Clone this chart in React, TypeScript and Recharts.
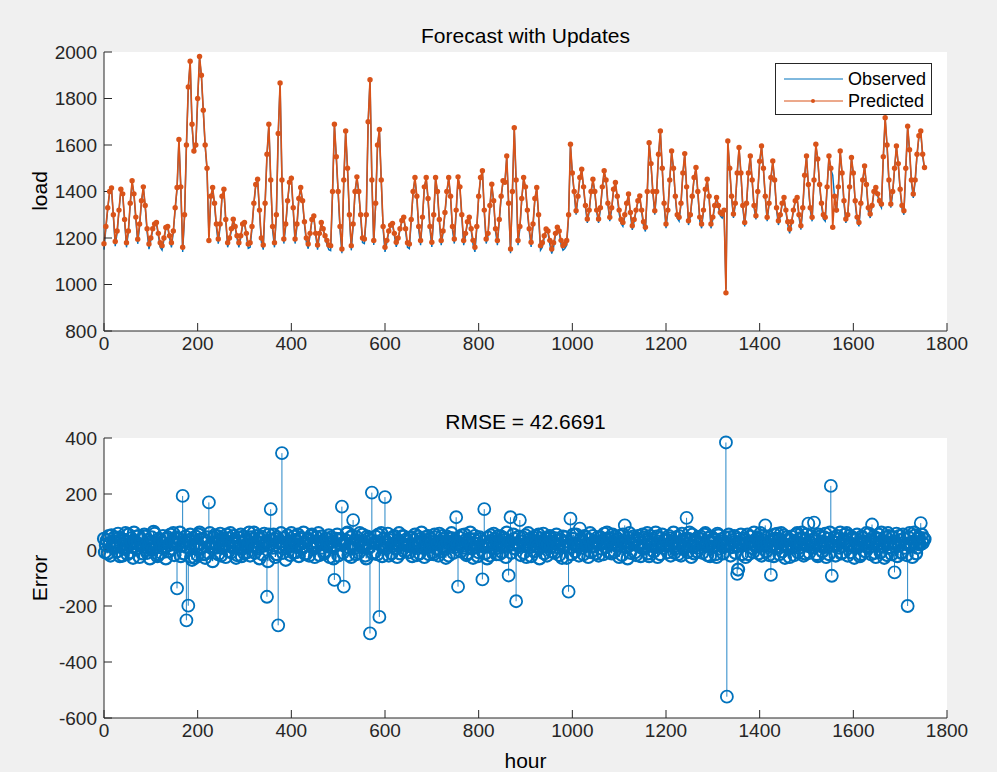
import React from "react";
import { LineChart, Line, ComposedChart, Bar, XAxis, YAxis } from "recharts";

// load sampled every 4 hours (one row = one day)
const loadStep = 4;
// error sampled every 2 hours (one row = one day)
const errorStep = 2;

const predictedLoad = [
  1175, 1250, 1330, 1400, 1415, 1300,
  1185, 1230, 1320, 1410, 1390, 1280,
  1180, 1230, 1350, 1446, 1390, 1290,
  1195, 1260, 1360, 1420, 1340, 1240,
  1174, 1200, 1240, 1260, 1267, 1220,
  1180, 1167, 1200, 1245, 1250, 1210,
  1180, 1230, 1330, 1417, 1624, 1420,
  1160, 1300, 1600, 1850, 1960, 1689,
  1574, 1600, 1800, 1981, 1900, 1750,
  1600, 1500, 1189, 1380, 1417, 1350,
  1260, 1196, 1260, 1380, 1410, 1280,
  1180, 1200, 1240, 1281, 1250, 1210,
  1180, 1210, 1260, 1267, 1220, 1174,
  1180, 1250, 1350, 1430, 1453, 1320,
  1200, 1170, 1350, 1560, 1689, 1450,
  1250, 1180, 1300, 1650, 1867, 1450,
  1196, 1260, 1360, 1440, 1457, 1330,
  1196, 1260, 1370, 1417, 1360, 1270,
  1200, 1174, 1220, 1280, 1295, 1220,
  1170, 1220, 1267, 1240, 1210, 1190,
  1170, 1167, 1400, 1689, 1550, 1400,
  1250, 1153, 1450, 1660, 1500, 1300,
  1167, 1260, 1400, 1463, 1400, 1300,
  1200, 1196, 1300, 1700, 1881, 1450,
  1189, 1350, 1600, 1667, 1450, 1250,
  1160, 1190, 1230, 1255, 1263, 1220,
  1182, 1200, 1240, 1275, 1289, 1240,
  1180, 1174, 1280, 1400, 1460, 1380,
  1250, 1189, 1290, 1420, 1460, 1370,
  1250, 1182, 1300, 1460, 1400, 1280,
  1189, 1230, 1310, 1400, 1460, 1380,
  1250, 1196, 1320, 1463, 1420, 1300,
  1189, 1220, 1270, 1289, 1240, 1190,
  1160, 1250, 1380, 1460, 1489, 1320,
  1196, 1220, 1340, 1431, 1360, 1240,
  1189, 1280, 1380, 1446, 1440, 1553,
  1350, 1153, 1400, 1674, 1450, 1189,
  1250, 1370, 1460, 1420, 1320, 1240,
  1182, 1260, 1370, 1417, 1300, 1167,
  1180, 1210, 1239, 1230, 1190, 1153,
  1180, 1220, 1246, 1230, 1190, 1167,
  1175, 1189, 1300, 1603, 1480, 1400,
  1317, 1380, 1460, 1496, 1420, 1340,
  1282, 1320, 1400, 1453, 1400, 1320,
  1282, 1330, 1420, 1489, 1450, 1350,
  1289, 1330, 1410, 1439, 1380, 1320,
  1280, 1267, 1300, 1350, 1389, 1310,
  1253, 1280, 1320, 1360, 1381, 1320,
  1270, 1246, 1400, 1610, 1520, 1400,
  1317, 1400, 1560, 1660, 1500, 1350,
  1260, 1320, 1450, 1574, 1500, 1380,
  1300, 1289, 1350, 1480, 1563, 1420,
  1274, 1300, 1380, 1460, 1503, 1400,
  1290, 1260, 1320, 1410, 1453, 1380,
  1260, 1290, 1340, 1374, 1340, 1310,
  1303, 1320, 964, 1617, 1500, 1380,
  1303, 1350, 1480, 1589, 1480, 1340,
  1267, 1350, 1480, 1553, 1450, 1340,
  1296, 1400, 1530, 1596, 1500, 1380,
  1289, 1350, 1460, 1531, 1450, 1330,
  1274, 1300, 1350, 1374, 1320, 1270,
  1239, 1270, 1320, 1360, 1374, 1300,
  1253, 1330, 1470, 1553, 1430, 1330,
  1289, 1450, 1603, 1540, 1430, 1350,
  1300, 1289, 1420, 1553, 1500, 1246,
  1380, 1320, 1420, 1574, 1480, 1360,
  1282, 1300, 1420, 1546, 1480, 1360,
  1290, 1267, 1350, 1450, 1510, 1430,
  1330, 1303, 1340, 1400, 1417, 1390,
  1360, 1346, 1550, 1717, 1600, 1450,
  1346, 1400, 1500, 1596, 1520, 1410,
  1340, 1317, 1500, 1681, 1580, 1450,
  1389, 1450, 1560, 1640, 1660, 1560,
  1503,
];

const observedLoad = [
  1150, 1240, 1325, 1395, 1410, 1290,
  1165, 1222, 1318, 1405, 1385, 1270,
  1160, 1225, 1345, 1440, 1385, 1280,
  1175, 1250, 1355, 1415, 1335, 1225,
  1152, 1190, 1235, 1255, 1262, 1210,
  1160, 1148, 1192, 1240, 1245, 1198,
  1160, 1225, 1325, 1410, 1620, 1415,
  1140, 1290, 1595, 1845, 1955, 1680,
  1565, 1595, 1795, 1975, 1895, 1745,
  1595, 1495, 1205, 1370, 1412, 1345,
  1245, 1176, 1250, 1375, 1405, 1270,
  1160, 1190, 1232, 1276, 1245, 1198,
  1160, 1200, 1255, 1262, 1210, 1155,
  1160, 1240, 1345, 1425, 1448, 1310,
  1182, 1150, 1345, 1555, 1684, 1445,
  1232, 1160, 1292, 1645, 1862, 1440,
  1176, 1250, 1355, 1435, 1452, 1320,
  1176, 1250, 1365, 1412, 1355, 1258,
  1182, 1154, 1212, 1275, 1290, 1210,
  1150, 1210, 1262, 1235, 1200, 1172,
  1150, 1146, 1392, 1684, 1545, 1390,
  1232, 1135, 1442, 1655, 1495, 1290,
  1147, 1250, 1395, 1458, 1395, 1290,
  1180, 1176, 1292, 1695, 1876, 1445,
  1170, 1342, 1595, 1662, 1445, 1238,
  1140, 1180, 1225, 1250, 1258, 1210,
  1162, 1190, 1235, 1270, 1284, 1230,
  1160, 1154, 1272, 1395, 1455, 1372,
  1235, 1169, 1282, 1415, 1455, 1362,
  1235, 1162, 1292, 1455, 1395, 1270,
  1169, 1222, 1305, 1395, 1455, 1372,
  1235, 1176, 1312, 1458, 1415, 1290,
  1169, 1210, 1265, 1284, 1232, 1172,
  1140, 1240, 1375, 1455, 1484, 1310,
  1176, 1210, 1335, 1426, 1355, 1228,
  1169, 1272, 1375, 1441, 1435, 1548,
  1340, 1135, 1392, 1669, 1442, 1169,
  1240, 1365, 1455, 1415, 1312, 1228,
  1162, 1250, 1365, 1412, 1290, 1147,
  1160, 1200, 1234, 1222, 1172, 1133,
  1160, 1212, 1241, 1222, 1172, 1147,
  1155, 1169, 1292, 1598, 1475, 1392,
  1300, 1372, 1455, 1491, 1415, 1330,
  1265, 1312, 1395, 1448, 1395, 1310,
  1265, 1322, 1415, 1484, 1445, 1340,
  1272, 1322, 1405, 1434, 1372, 1305,
  1262, 1250, 1292, 1345, 1384, 1300,
  1235, 1270, 1315, 1355, 1376, 1310,
  1252, 1228, 1392, 1605, 1515, 1392,
  1300, 1395, 1555, 1655, 1495, 1340,
  1242, 1312, 1445, 1569, 1495, 1372,
  1285, 1272, 1345, 1475, 1558, 1412,
  1256, 1292, 1375, 1455, 1498, 1392,
  1274, 1242, 1312, 1405, 1448, 1372,
  1242, 1280, 1335, 1369, 1332, 1295,
  1286, 1312, 980, 1612, 1495, 1372,
  1286, 1342, 1475, 1584, 1475, 1330,
  1250, 1342, 1475, 1548, 1442, 1330,
  1280, 1395, 1525, 1591, 1495, 1372,
  1272, 1342, 1455, 1526, 1442, 1320,
  1256, 1292, 1345, 1369, 1312, 1256,
  1220, 1260, 1315, 1355, 1369, 1290,
  1236, 1322, 1465, 1548, 1425, 1320,
  1272, 1445, 1598, 1535, 1425, 1340,
  1282, 1272, 1415, 1548, 1495, 1470,
  1372, 1310, 1415, 1569, 1475, 1350,
  1265, 1292, 1415, 1541, 1475, 1350,
  1275, 1250, 1345, 1445, 1505, 1425,
  1315, 1286, 1335, 1395, 1412, 1382,
  1345, 1330, 1545, 1712, 1595, 1442,
  1330, 1392, 1495, 1591, 1515, 1402,
  1325, 1300, 1495, 1676, 1575, 1440,
  1372, 1442, 1555, 1635, 1655, 1552,
  1495,
];

const forecastError = [
  40, -8, 18, 35, -12, 50, 25, -20, 52, 15, 8, 45,
  30, 12, -5, 58, 44, -22, 15, 38, -20, 5, 35, 60,
  10, -15, 55, 20, -8, 42, 28, -28, 62, 30, 5, 48,
  22, 50, -25, 15, 38, -12, 12, 55, 48, 0, -10, 35,
  15, -30, 30, 45, 2, 65, 58, 10, 20, -22, -15, 40,
  35, -10, 8, 50, 25, 12, -30, 40, 45, -5, 18, 55,
  5, 30, 60, -18, 28, 45, -137, 20, 40, 62, -22, 15,
  193, -12, 30, 48, -251, 10, -199, 35, 55, -25, -35, 42,
  20, -28, 48, 15, -18, 55, 62, 5, 10, 40, 38, -15,
  -28, 30, 45, -10, 170, 60, 12, 25, -40, 45, 52, 8,
  25, 50, -15, 35, 58, -20, 8, 42, 35, 15, -25, 55,
  42, -5, 15, 60, -8, 30, 50, 12, 22, -28, -18, 45,
  30, 10, 55, -22, 5, 48, -12, 35, 40, -8, 18, 62,
  -20, 45, 38, 15, 62, -10, 10, 50, 28, 5, -30, 40,
  48, -15, 15, 58, 22, 30, -167, -40, 55, 20, 146, 35,
  8, 55, 40, -25, -15, 45, -269, 12, 30, 60, 346, -10,
  20, 42, -35, 10, 52, 30, 12, -18, 60, 25, -10, 48,
  35, -8, 18, 55, -22, 40, 45, 5, 8, 62, 28, -15,
  -12, 35, 40, -20, 22, 50, 55, 10, 5, -25, 30, 45,
  15, 60, -18, 30, 48, 8, 25, -12, -5, 42, 38, 20,
  52, -25, 10, 45, 30, -30, -107, 15, 40, 55, -20, 35,
  20, 40, 155, -10, -131, 25, 35, 58, 62, -18, 8, 45,
  -25, 50, 107, 5, 18, -15, 45, 30, -10, 60, 30, 12,
  55, 25, 12, -20, -30, 48, 40, 10, -298, 35, 205, -12,
  25, -8, 48, 30, -15, 55, -239, 20, 60, -22, 10, 40,
  189, 5, 28, 58, -20, 35, 42, -12, 15, 45, 50, 8,
  5, -25, 35, 60, -12, 25, 22, 50, 48, -5, 18, 38,
  30, 15, -8, 42, 45, -22, 12, 35, 55, 20, -18, 48,
  20, -12, 40, 62, 8, 30, -25, 45, 35, 10, 50, -15,
  12, 40, 28, -8, -15, 55, 45, 5, 22, -20, 58, 30,
  -5, 50, 38, 12, 15, -28, 48, 25, -20, 42, 30, 60,
  42, -10, 10, 35, 117, 20, -131, 45, 25, -5, 52, 15,
  8, 55, 35, -18, -12, 30, 40, 62, 18, 5, -28, 38,
  50, 10, 22, -22, -8, 45, 38, 15, -105, 30, 146, -12,
  15, -30, 45, 25, -20, 52, 30, 8, 58, 40, 5, -15,
  28, 50, -15, 20, 48, -8, 12, 42, 35, -25, 62, 18,
  -91, 30, 117, -10, 20, 55, 40, 5, -183, 25, 15, 48,
  107, -18, 30, 45, -10, 15, 52, -25, 20, 60, 38, 10,
  -22, 35, 45, -5, 15, 50, 28, 12, 55, -30, 8, 42,
  32, 58, -12, 25, 40, -20, 18, 45, 50, 10, -5, 30,
  25, -10, 42, 55, 10, 20, -18, 38, 35, -28, 48, 15,
  15, 45, -28, 30, -149, 10, 112, -15, 40, 55, 20, -5,
  55, 22, 12, -20, 76, 40, 30, 8, -15, 50, 45, 18,
  22, -25, 38, 60, -8, 12, 50, 30, 15, -12, 28, 45,
  -20, 25, 45, 5, 30, -15, 58, 40, 10, 62, 35, -8,
  40, 20, -12, 55, 25, -5, 48, 15, 18, 38, -25, 50,
  30, -18, 55, 28, 88, 10, 12, -30, 42, 60, -10, 22,
  20, 48, 35, -8, -18, 40, 50, 15, 28, -22, 8, 55,
  45, 5, 15, 35, 60, -12, -22, 50, 38, 18, 25, -5,
  10, 62, 48, -25, 30, 12, -15, 42, 55, 8, 20, 35,
  38, 15, -8, 50, 42, -20, 18, 30, 62, -10, 5, 45,
  25, -15, 50, 20, -20, 58, 35, 8, 12, 40, 115, -8,
  40, 62, 15, -25, 55, 10, -12, 35, 30, -5, 45, 20,
  8, 48, 38, -10, 22, 55, 60, 15, -18, 42, 32, -22,
  48, 25, 12, 40, 35, -15, -25, 58, 52, 5, 20, 38,
  30, -12, 15, 45, 384, -524, 20, 55, 45, -20, 10, 35,
  28, 50, -10, 12, -85, -70, 40, 25, 55, -15, 18, 42,
  35, -25, 20, 55, -15, 30, 48, 8, 30, -8, 62, 18,
  12, 40, 45, -12, 25, 60, -20, 35, 50, 15, 88, -5,
  22, 48, -18, 30, -89, 12, 38, -22, 55, 40, 10, 58,
  40, -15, 28, 60, -5, 20, 52, -28, 18, 45, 35, 5,
  -25, 35, 48, 10, 15, -18, 30, 55, 60, -8, 8, 42,
  20, 62, 42, -20, -12, 38, 55, 15, 94, -10, 25, 50,
  35, 8, 98, 40, 18, -15, -22, 55, 48, 20, 30, -5,
  10, 45, 58, -25, 25, 40, -15, 62, 229, -92, 30, 15,
  45, -20, 15, 50, 38, 8, 62, -12, -10, 35, 28, 55,
  30, 60, -20, 15, 50, -8, 22, 45, 40, -28, 12, 38,
  55, 10, 18, -22, -15, 48, 42, 25, 30, -5, 60, 15,
  8, 58, 35, -15, 91, 30, 48, -10, -25, 40, 20, 55,
  40, -8, 62, 25, 12, -28, 30, 45, -18, 60, 50, 10,
  25, -15, 45, 30, -80, 12, 58, -22, 15, 50, 35, -10,
  -10, 55, 40, 8, 22, -18, -200, 45, 60, 25, 18, -25,
  30, 62, 52, -12, 8, 40, 45, 20, 96, 55, 25, 42,
  38,
];

const hourTicks = [0, 200, 400, 600, 800, 1000, 1200, 1400, 1600, 1800];
const loadTicks = [800, 1000, 1200, 1400, 1600, 1800, 2000];
const errorTicks = [-600, -400, -200, 0, 200, 400];

const BLUE = "#0072BD";
const ORANGE = "#D95319";
const AXIS = "#262626";
const FONT = "'Liberation Sans', Arial, Helvetica, sans-serif";

const loadData = predictedLoad.map((p, i) => ({
  hour: i * loadStep,
  observed: observedLoad[i],
  predicted: p,
}));
const errorData = forecastError.map((e, i) => ({ hour: i * errorStep, error: e }));

const tickStyle = { fontSize: 19, fill: AXIS, fontFamily: FONT };
const noLabel = () => <g />;

// stems: thin lines from zero to the value
const Stem = (props: any) => {
  const { x, y, width, height, payload } = props;
  if (height == null || isNaN(height)) return <g />;
  const big = Math.abs(payload.error) > 70;
  const w = big ? 1 : 1.3;
  const top = height < 0 ? y + height : y;
  return (
    <rect
      x={x + width / 2 - w / 2}
      y={top}
      width={w}
      height={Math.abs(height)}
      fill={BLUE}
      fillOpacity={big ? 0.85 : 1}
    />
  );
};

// open circle marker at the tip of each stem
const StemHead = (props: any) => {
  const { cx, cy, payload } = props;
  if (cx == null || cy == null) return <g />;
  const big = Math.abs(payload.error) > 70;
  return (
    <circle
      cx={cx}
      cy={cy}
      r={6}
      fill="none"
      stroke={BLUE}
      strokeWidth={big ? 1.8 : 2.2}
    />
  );
};

const boxAxes = (ticksX: number[], ticksY: number[], domainY: [number, number]) => [
  <XAxis
    key="top"
    xAxisId="top"
    orientation="top"
    type="number"
    dataKey="hour"
    domain={[0, 1800]}
    ticks={ticksX}
    interval={0}
    height={0}
    tickSize={-8}
    tick={noLabel}
    stroke={AXIS}
  />,
  <YAxis
    key="right"
    yAxisId="right"
    orientation="right"
    type="number"
    domain={domainY}
    ticks={ticksY}
    interval={0}
    width={0}
    tickSize={-8}
    tick={noLabel}
    stroke={AXIS}
  />,
];

const label = (text: string, style: React.CSSProperties) => (
  <div
    style={{
      position: "absolute",
      fontFamily: FONT,
      fontSize: 21,
      color: "#000",
      whiteSpace: "nowrap",
      ...style,
    }}
  >
    {text}
  </div>
);

export default function App() {
  return (
    <div
      style={{
        position: "relative",
        width: 997,
        height: 772,
        background: "#f0f0f0",
        overflow: "hidden",
      }}
    >
      <style>{`body{margin:0}`}</style>

      <div style={{ position: "absolute", left: 0, top: 0 }}>
        <LineChart
          width={997}
          height={370}
          data={loadData}
          margin={{ top: 52, right: 50, bottom: 0, left: 44 }}
        >
          <rect x={104} y={52} width={843} height={279} fill="#fff" />
          <XAxis
            type="number"
            dataKey="hour"
            domain={[0, 1800]}
            ticks={hourTicks}
            interval={0}
            height={39}
            tickSize={-8}
            tickMargin={14}
            tick={tickStyle}
            stroke={AXIS}
          />
          <YAxis
            type="number"
            domain={[800, 2000]}
            ticks={loadTicks}
            interval={0}
            width={60}
            tickSize={-8}
            tickMargin={15}
            tick={tickStyle}
            stroke={AXIS}
          />
          {boxAxes(hourTicks, loadTicks, [800, 2000])}
          <Line
            dataKey="observed"
            stroke={BLUE}
            strokeWidth={1.4}
            dot={false}
            isAnimationActive={false}
          />
          <Line
            dataKey="predicted"
            stroke={ORANGE}
            strokeWidth={1.6}
            dot={{ r: 2.7, fill: ORANGE, stroke: "none" }}
            isAnimationActive={false}
          />
        </LineChart>
      </div>

      <div style={{ position: "absolute", left: 0, top: 386 }}>
        <ComposedChart
          width={997}
          height={386}
          data={errorData}
          margin={{ top: 52, right: 50, bottom: 15, left: 44 }}
        >
          <rect x={104} y={52} width={843} height={280} fill="#fff" />
          <XAxis
            type="number"
            dataKey="hour"
            domain={[0, 1800]}
            ticks={hourTicks}
            interval={0}
            height={39}
            tickSize={-8}
            tickMargin={14}
            tick={tickStyle}
            stroke={AXIS}
          />
          <YAxis
            type="number"
            domain={[-600, 400]}
            ticks={errorTicks}
            interval={0}
            width={60}
            tickSize={-8}
            tickMargin={15}
            tick={tickStyle}
            stroke={AXIS}
          />
          {boxAxes(hourTicks, errorTicks, [-600, 400])}
          <Bar dataKey="error" barSize={1} shape={Stem} isAnimationActive={false} />
          <Line
            dataKey="error"
            stroke="none"
            dot={StemHead}
            isAnimationActive={false}
          />
        </ComposedChart>
      </div>

      {label("Forecast with Updates", { left: 104, width: 843, top: 24, textAlign: "center" })}
      {label("RMSE = 42.6691", { left: 104, width: 843, top: 410, textAlign: "center" })}
      {label("hour", { left: 104, width: 843, top: 749, textAlign: "center" })}
      {label("load", {
        left: 40,
        top: 191,
        transform: "translate(-50%, -50%) rotate(-90deg)",
      })}
      {label("Error", {
        left: 40,
        top: 578,
        transform: "translate(-50%, -50%) rotate(-90deg)",
      })}

      <div
        style={{
          position: "absolute",
          left: 775,
          top: 63,
          width: 157,
          height: 52,
          boxSizing: "border-box",
          background: "#fff",
          border: `1px solid ${AXIS}`,
          fontFamily: FONT,
          fontSize: 18,
          color: "#000",
        }}
      >
        {[
          { name: "Observed", color: BLUE, marker: false },
          { name: "Predicted", color: ORANGE, marker: true },
        ].map((s, i) => (
          <div
            key={s.name}
            style={{ position: "absolute", left: 0, top: 4 + i * 22, height: 22, display: "flex", alignItems: "center" }}
          >
            <svg width={72} height={22}>
              <line x1={8} x2={67} y1={11} y2={11} stroke={s.color} strokeWidth={1} />
              {s.marker && <circle cx={37} cy={11} r={2} fill={s.color} />}
            </svg>
            <span>{s.name}</span>
          </div>
        ))}
      </div>
    </div>
  );
}
